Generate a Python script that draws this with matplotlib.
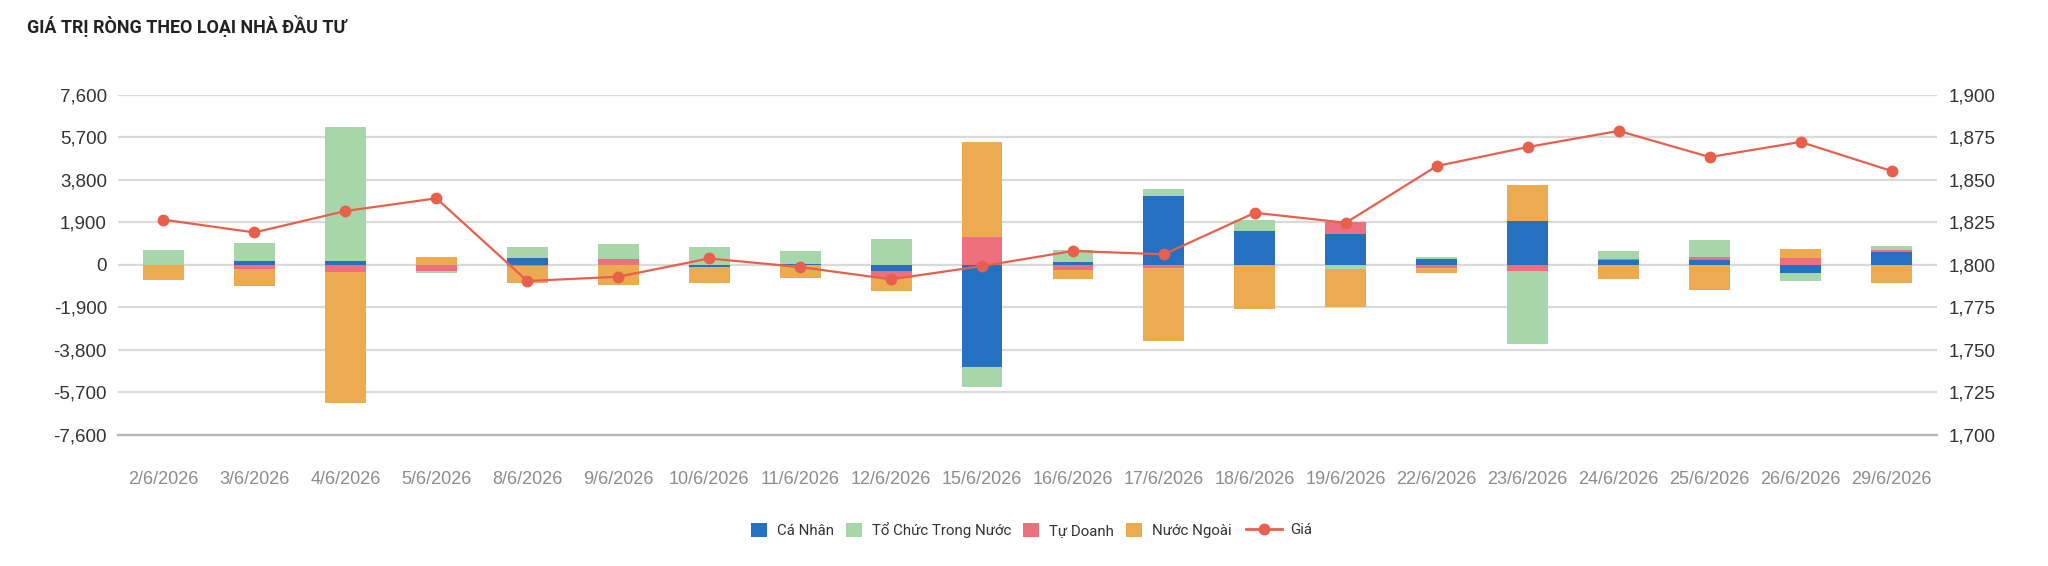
import numpy as np
import matplotlib
matplotlib.use("Agg")
import matplotlib.pyplot as plt
from matplotlib.ticker import FuncFormatter, FixedLocator
from matplotlib.patches import Patch
from matplotlib.lines import Line2D

# ---------------- data ----------------
dates = ["2/6/2026", "3/6/2026", "4/6/2026", "5/6/2026", "8/6/2026", "9/6/2026",
         "10/6/2026", "11/6/2026", "12/6/2026", "15/6/2026", "16/6/2026", "17/6/2026",
         "18/6/2026", "19/6/2026", "22/6/2026", "23/6/2026", "24/6/2026", "25/6/2026",
         "26/6/2026", "29/6/2026"]

ca_nhan = [-15, 180, 150, -10, 300, -20, -100, 20, -283, -4566, 119, 3073,
           1507, 1373, 269, 1955, 194, 209, -358, 567]
to_chuc = [656, 775, 6027, -90, 476, 656, 776, 597, 1134, -925, 537, 329,
           477, -194, 89, -3297, 358, 761, -358, 150]
tu_doanh = [-10, -194, -343, -254, -60, 254, -10, 0, -329, 1223, -239, -149,
            -30, 522, -134, -269, 75, 134, 298, 104]
nuoc_ngoai = [-650, -776, -5834, 328, -746, -905, -691, -612, -552, 4253, -417, -3268,
              -1970, -1701, -239, 1596, -656, -1119, 418, -836]
gia = [1826.5, 1819.0, 1831.6, 1839.1, 1790.4, 1792.9, 1803.7, 1798.6, 1791.4, 1799.2,
       1808.1, 1806.1, 1830.6, 1824.7, 1858.1, 1869.3, 1878.8, 1863.4, 1872.3, 1855.2]

series_names = ["Cá Nhân", "Tổ Chức Trong Nước", "Tự Doanh", "Nước Ngoài"]
left_ticks = list(range(-7600, 7601, 1900))
right_ticks = list(range(1700, 1901, 25))

# ---------------- style ----------------
C_BLUE = "#2670C2"
C_GREEN = "#A8D6AB"
C_RED = "#EE6F7E"
C_ORANGE = "#EDAB51"
C_LINE = "#E8604C"

W, H = 2048, 566
fig = plt.figure(figsize=(W / 100, H / 100), dpi=100)
ax_l, ax_r, ax_t, ax_b = 118, 1937, 94.9, 434.5
ax = fig.add_axes([ax_l / W, (H - ax_b) / H, (ax_r - ax_l) / W, (ax_b - ax_t) / H])

x = np.arange(len(dates))
# stacking order as drawn in the reference: Cá Nhân, Tự Doanh, Tổ Chức, Nước Ngoài
stack = [(ca_nhan, C_BLUE), (tu_doanh, C_RED), (to_chuc, C_GREEN), (nuoc_ngoai, C_ORANGE)]
pos_b = np.zeros(len(dates))
neg_b = np.zeros(len(dates))
for vals, col in stack:
    v = np.array(vals, dtype=float)
    bottom = np.where(v >= 0, pos_b, neg_b)
    ax.bar(x, v, 0.45, bottom=bottom, color=col, linewidth=0, zorder=2)
    pos_b = pos_b + np.where(v >= 0, v, 0)
    neg_b = neg_b + np.where(v < 0, v, 0)

ax.set_xlim(-0.5, len(dates) - 0.5)
ax.set_ylim(-7600, 7600)
ax.yaxis.set_major_locator(FixedLocator(left_ticks))
ax.yaxis.set_major_formatter(FuncFormatter(lambda v, p: f"{v:,.0f}"))
ax.set_xticks(x)
ax.set_xticklabels(dates)
ax.set_axisbelow(True)
ax.grid(axis="y", color="#dadada", linewidth=1.6, zorder=0)
ax.grid(axis="x", visible=False)
for s in ["top", "left", "right"]:
    ax.spines[s].set_visible(False)
ax.spines["bottom"].set_color("#b5b5b5")
ax.spines["bottom"].set_linewidth(1.6)
ax.tick_params(axis="y", length=0, pad=8, labelsize=13.5, labelcolor="#333333")
ax.tick_params(axis="x", length=0, pad=26, labelsize=13, labelcolor="#8c8c8c")
for lab in ax.get_xticklabels() + ax.get_yticklabels():
    lab.set_fontfamily("Liberation Sans")

ax2 = ax.twinx()
ax2.set_ylim(1700, 1900)
ax2.yaxis.set_major_locator(FixedLocator(right_ticks))
ax2.yaxis.set_major_formatter(FuncFormatter(lambda v, p: f"{v:,.0f}"))
ax2.plot(x, gia, color=C_LINE, linewidth=1.6, marker="o", markersize=7.5, zorder=5)
for s in ax2.spines.values():
    s.set_visible(False)
ax2.tick_params(axis="y", length=0, pad=8.5, labelsize=13.5, labelcolor="#333333")
for lab in ax2.get_yticklabels():
    lab.set_fontfamily("Liberation Sans")

# title
fig.text(27 / W, 1 - 33.3 / H, "GIÁ TRỊ RÒNG THEO LOẠI NHÀ ĐẦU TƯ", ha="left", va="baseline",
         fontsize=12.9, fontweight="bold", color="#222222", family=["Roboto", "DejaVu Sans"])

# legend
fs = 10.8
fpx = fs * 100 / 72
patch_cols = [C_BLUE, C_GREEN, C_RED, C_ORANGE]
handles = [Patch(facecolor=c, edgecolor="none") for c in patch_cols]
leg_y = 1 - 530.5 / H
leg1 = fig.legend(handles, series_names, loc="center left", bbox_to_anchor=(751 / W, leg_y),
                  ncol=4, frameon=False, handlelength=16 / fpx, handleheight=16 / fpx,
                  handletextpad=10 / fpx, columnspacing=12 / fpx, borderpad=0, borderaxespad=0,
                  labelcolor="#333333", prop={"family": ["Roboto", "DejaVu Sans"], "size": fs})
fig.canvas.draw()
bb = leg1.get_window_extent(fig.canvas.get_renderer())
line_h = Line2D([], [], color=C_LINE, linewidth=2, marker="o", markersize=7.5)
leg2 = fig.legend([line_h], ["Giá"], loc="center left", bbox_to_anchor=((bb.x1 + 14) / W, leg_y),
                  frameon=False, handlelength=36 / fpx, handletextpad=8 / fpx, borderpad=0,
                  borderaxespad=0, labelcolor="#333333",
                  prop={"family": ["Roboto", "DejaVu Sans"], "size": fs})

fig.savefig("out.png", dpi=100)
